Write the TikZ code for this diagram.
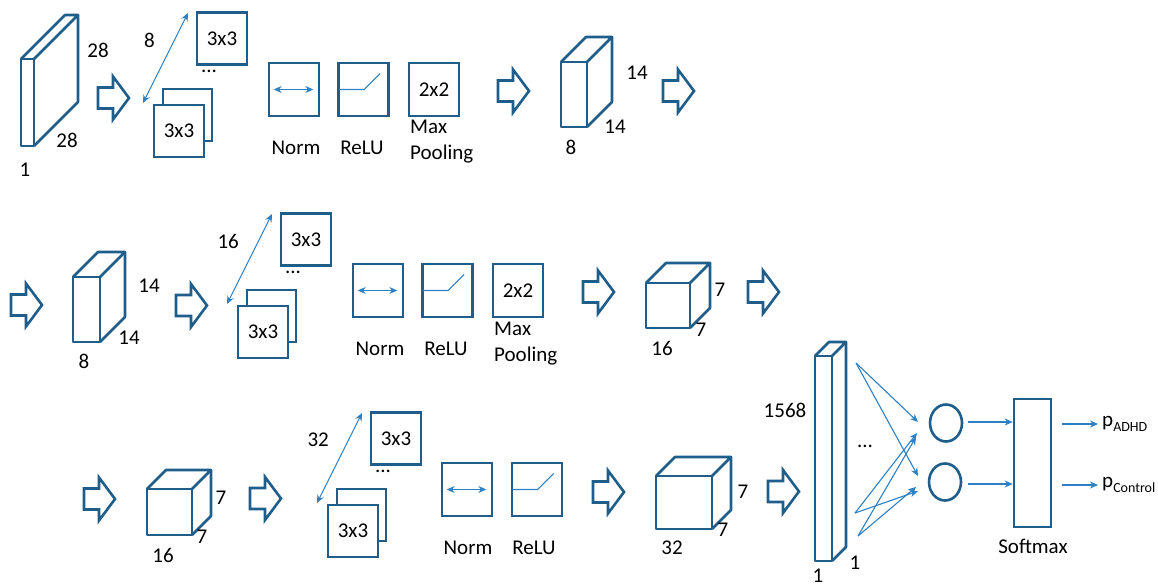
\documentclass[tikz,border=0pt]{standalone}
\usepackage{fontspec}
\setmainfont{Carlito}
\usetikzlibrary{arrows.meta,shapes.geometric}
\definecolor{dk}{RGB}{31,94,138}
\definecolor{lt}{RGB}{46,128,196}
\tikzset{
  heavy/.style={draw=dk, line width=2.6pt},
  fine/.style={draw=lt, line width=1.1pt},
  arr/.style={fine, -{Stealth[length=8pt,width=7pt]}},
  dbl/.style={fine, {Stealth[length=8pt,width=7pt]}-{Stealth[length=8pt,width=7pt]}},
  lbl/.style={font=\fontsize{21}{25}\selectfont, inner sep=0pt, text=black},
  sq/.style={heavy, fill=white, inner sep=0pt, font=\fontsize{21}{25}\selectfont, minimum width=50pt, minimum height=52pt},
  opbox/.style={heavy, fill=white, inner sep=0pt, font=\fontsize{21}{25}\selectfont, minimum width=50pt, minimum height=53pt},
  pics/barrow/.style={code={
    \draw[heavy, line join=miter] (0,-10.5) -- (15,-10.5) -- (15,-21.5) -- (31,0) -- (15,21.5) -- (15,10.5) -- (0,10.5) -- cycle;
  }},
  pics/cuboid/.style n args={3}{code={
    \draw[heavy, line join=round] (0,0) rectangle (#1,#2);
    \draw[heavy, line join=round] (0,0) -- (#3,-#3) -- (#1+#3,-#3) -- (#1,0);
    \draw[heavy, line join=round] (#1+#3,-#3) -- (#1+#3,#2-#3) -- (#1,#2);
  }},
  pics/kernels/.style={code={
    \node[sq] (-top) at (25,25.5) {3x3};
    \node[lbl] (-dots) at (12,58) {...};
    \node[sq, minimum width=49pt] (-back) at (-9.5,102) {};
    \node[sq] (-front) at (-18,118) {3x3};
    \coordinate (-lo) at (-54,90);
    \coordinate (-hi) at (-9,0);
    \draw[dbl] (-lo) -- (-hi);
    \node[lbl, anchor=east] (-n) at (-42,27) {#1};
  }},
}
\begin{document}
\begin{tikzpicture}[x=1pt,y=-1pt]
\useasboundingbox (0,0) rectangle (1158,588);

% ---------- Row 1 ----------
\pic (c1) at (21,59) {cuboid={13}{87}{44}};
\node[lbl] (c1a) at (98,50) {28};
\node[lbl] (c1b) at (67,140) {28};
\node[lbl] (c1c) at (25,170) {1};
\pic (a1) at (98,98) {barrow};
\pic (k1) at (197,13) {kernels=8};
\node[opbox] (n1) at (294,89.5) {};
\draw[dbl] ([xshift=6pt]n1.west) -- ([xshift=-7pt]n1.east);
\node[opbox] (r1) at (363.5,89.5) {};
\draw[fine] ([xshift=2pt]r1.west) -- ++(25,0) -- ++(16,-16);
\node[opbox] (m1) at (434,89.5) {2x2};
\node[lbl] (n1l) at (296,148) {Norm};
\node[lbl] (r1l) at (362,148) {ReLU};
\node[lbl, anchor=base west] (m1l) at (410,134) {Max};
\node[lbl, anchor=base west] (m1p) at (410,160) {Pooling};
\pic (a2) at (498,91) {barrow};
\pic (c2) at (561,62) {cuboid={26}{65}{25}};
\node[lbl] (c2a) at (637,73) {14};
\node[lbl] (c2b) at (615,127) {14};
\node[lbl] (c2c) at (571,147) {8};
\pic (a3) at (663,91) {barrow};

% ---------- Row 2 ----------
\pic (a4) at (11,305) {barrow};
\pic (c3) at (73,277) {cuboid={27}{65}{25}};
\node[lbl] (c3a) at (149,286) {14};
\node[lbl] (c3b) at (129,338) {14};
\node[lbl] (c3c) at (84,361) {8};
\pic (a5) at (176,305.5) {barrow};
\pic (k2) at (281,214) {kernels=16};
\node[opbox] (n2) at (378,290.5) {};
\draw[dbl] ([xshift=6pt]n2.west) -- ([xshift=-7pt]n2.east);
\node[opbox] (r2) at (447.5,290.5) {};
\draw[fine] ([xshift=2pt]r2.west) -- ++(25,0) -- ++(16,-16);
\node[opbox] (m2) at (518,290.5) {2x2};
\node[lbl] (n2l) at (380,349) {Norm};
\node[lbl] (r2l) at (446,349) {ReLU};
\node[lbl, anchor=base west] (m2l) at (494,335) {Max};
\node[lbl, anchor=base west] (m2p) at (494,361) {Pooling};
\pic (a6) at (583,292) {barrow};
\pic (c4) at (646,283) {cuboid={44}{45}{20}};
\node[lbl] (c4a) at (720,290) {7};
\node[lbl] (c4b) at (701,330) {7};
\node[lbl] (c4c) at (662,348) {16};
\pic (a7) at (748,292) {barrow};

% ---------- Row 3 ----------
\pic (a8) at (84,499) {barrow};
\pic (c5) at (147,489) {cuboid={45}{46}{19}};
\node[lbl] (c5a) at (221,498) {7};
\node[lbl] (c5b) at (202,537) {7};
\node[lbl] (c5c) at (163,555) {16};
\pic (a9) at (250,498.5) {barrow};
\pic (k3) at (371,413) {kernels=32};
\node[opbox] (n3) at (467,489.5) {};
\draw[dbl] ([xshift=6pt]n3.west) -- ([xshift=-7pt]n3.east);
\node[opbox] (r3) at (537,489.5) {};
\draw[fine] ([xshift=2pt]r3.west) -- ++(25,0) -- ++(16,-16);
\node[lbl] (n3l) at (468,548) {Norm};
\node[lbl] (r3l) at (534,548) {ReLU};
\pic (a10) at (593,492) {barrow};
\pic (c6) at (656,476) {cuboid={56}{53}{19}};
\node[lbl] (c6a) at (743,492) {7};
\node[lbl] (c6b) at (723,530) {7};
\node[lbl] (c6c) at (672,548) {32};
\pic (a11) at (768,491.5) {barrow};

% ---------- Fully connected ----------
\pic (c7) at (815,356) {cuboid={17}{205}{14}};
\node[lbl] (c7a) at (785,410) {1568};
\node[lbl] (c7b) at (855,563) {1};
\node[lbl] (c7c) at (818,576) {1};
\node[lbl] (fdots) at (865,446) {...};

\node[heavy, ellipse, minimum width=32pt, minimum height=37pt, inner sep=0pt] (o1) at (946,423) {};
\node[heavy, ellipse, minimum width=32pt, minimum height=37pt, inner sep=0pt] (o2) at (945,482) {};

\coordinate (s1) at (856,363);
\coordinate (s2) at (855,513);
\coordinate (s3) at (858,536);
\coordinate (t1a) at (918,422);
\coordinate (t1b) at (917,433);
\coordinate (t1c) at (916,437);
\coordinate (t2a) at (918,476);
\coordinate (t2b) at (916,487);
\coordinate (t2c) at (918,491);
\draw[arr] (s1) -- (t1a);
\draw[arr] (s1) -- (t2a);
\draw[arr] (s2) -- (t1b);
\draw[arr] (s2) -- (t2c);
\draw[arr] (s3) -- (t1c);
\draw[arr] (s3) -- (t2b);

\node[heavy, minimum width=37pt, minimum height=128pt, inner sep=0pt] (sm) at (1032.5,463) {};
\node[lbl] (sml) at (1033,546) {Softmax};
\draw[arr] ([xshift=5pt]o1.east |- 0,422) -- (sm.west |- 0,422) coordinate (e1);
\draw[arr] ([xshift=6pt]o2.east |- 0,484) -- (sm.west |- 0,484) coordinate (e2);
\coordinate (q1) at (1062,424);
\coordinate (q2) at (1062,485);
\node[lbl, anchor=west] (pa) at (1102,424) {p\raisebox{-5pt}{\fontsize{14}{16}\selectfont ADHD}};
\node[lbl, anchor=west] (pc) at (1102,485) {p\raisebox{-5pt}{\fontsize{14}{16}\selectfont Control}};
\draw[arr] (q1) -- ([xshift=-4pt]pa.west);
\draw[arr] (q2) -- ([xshift=-4pt]pc.west);
\end{tikzpicture}
\end{document}
